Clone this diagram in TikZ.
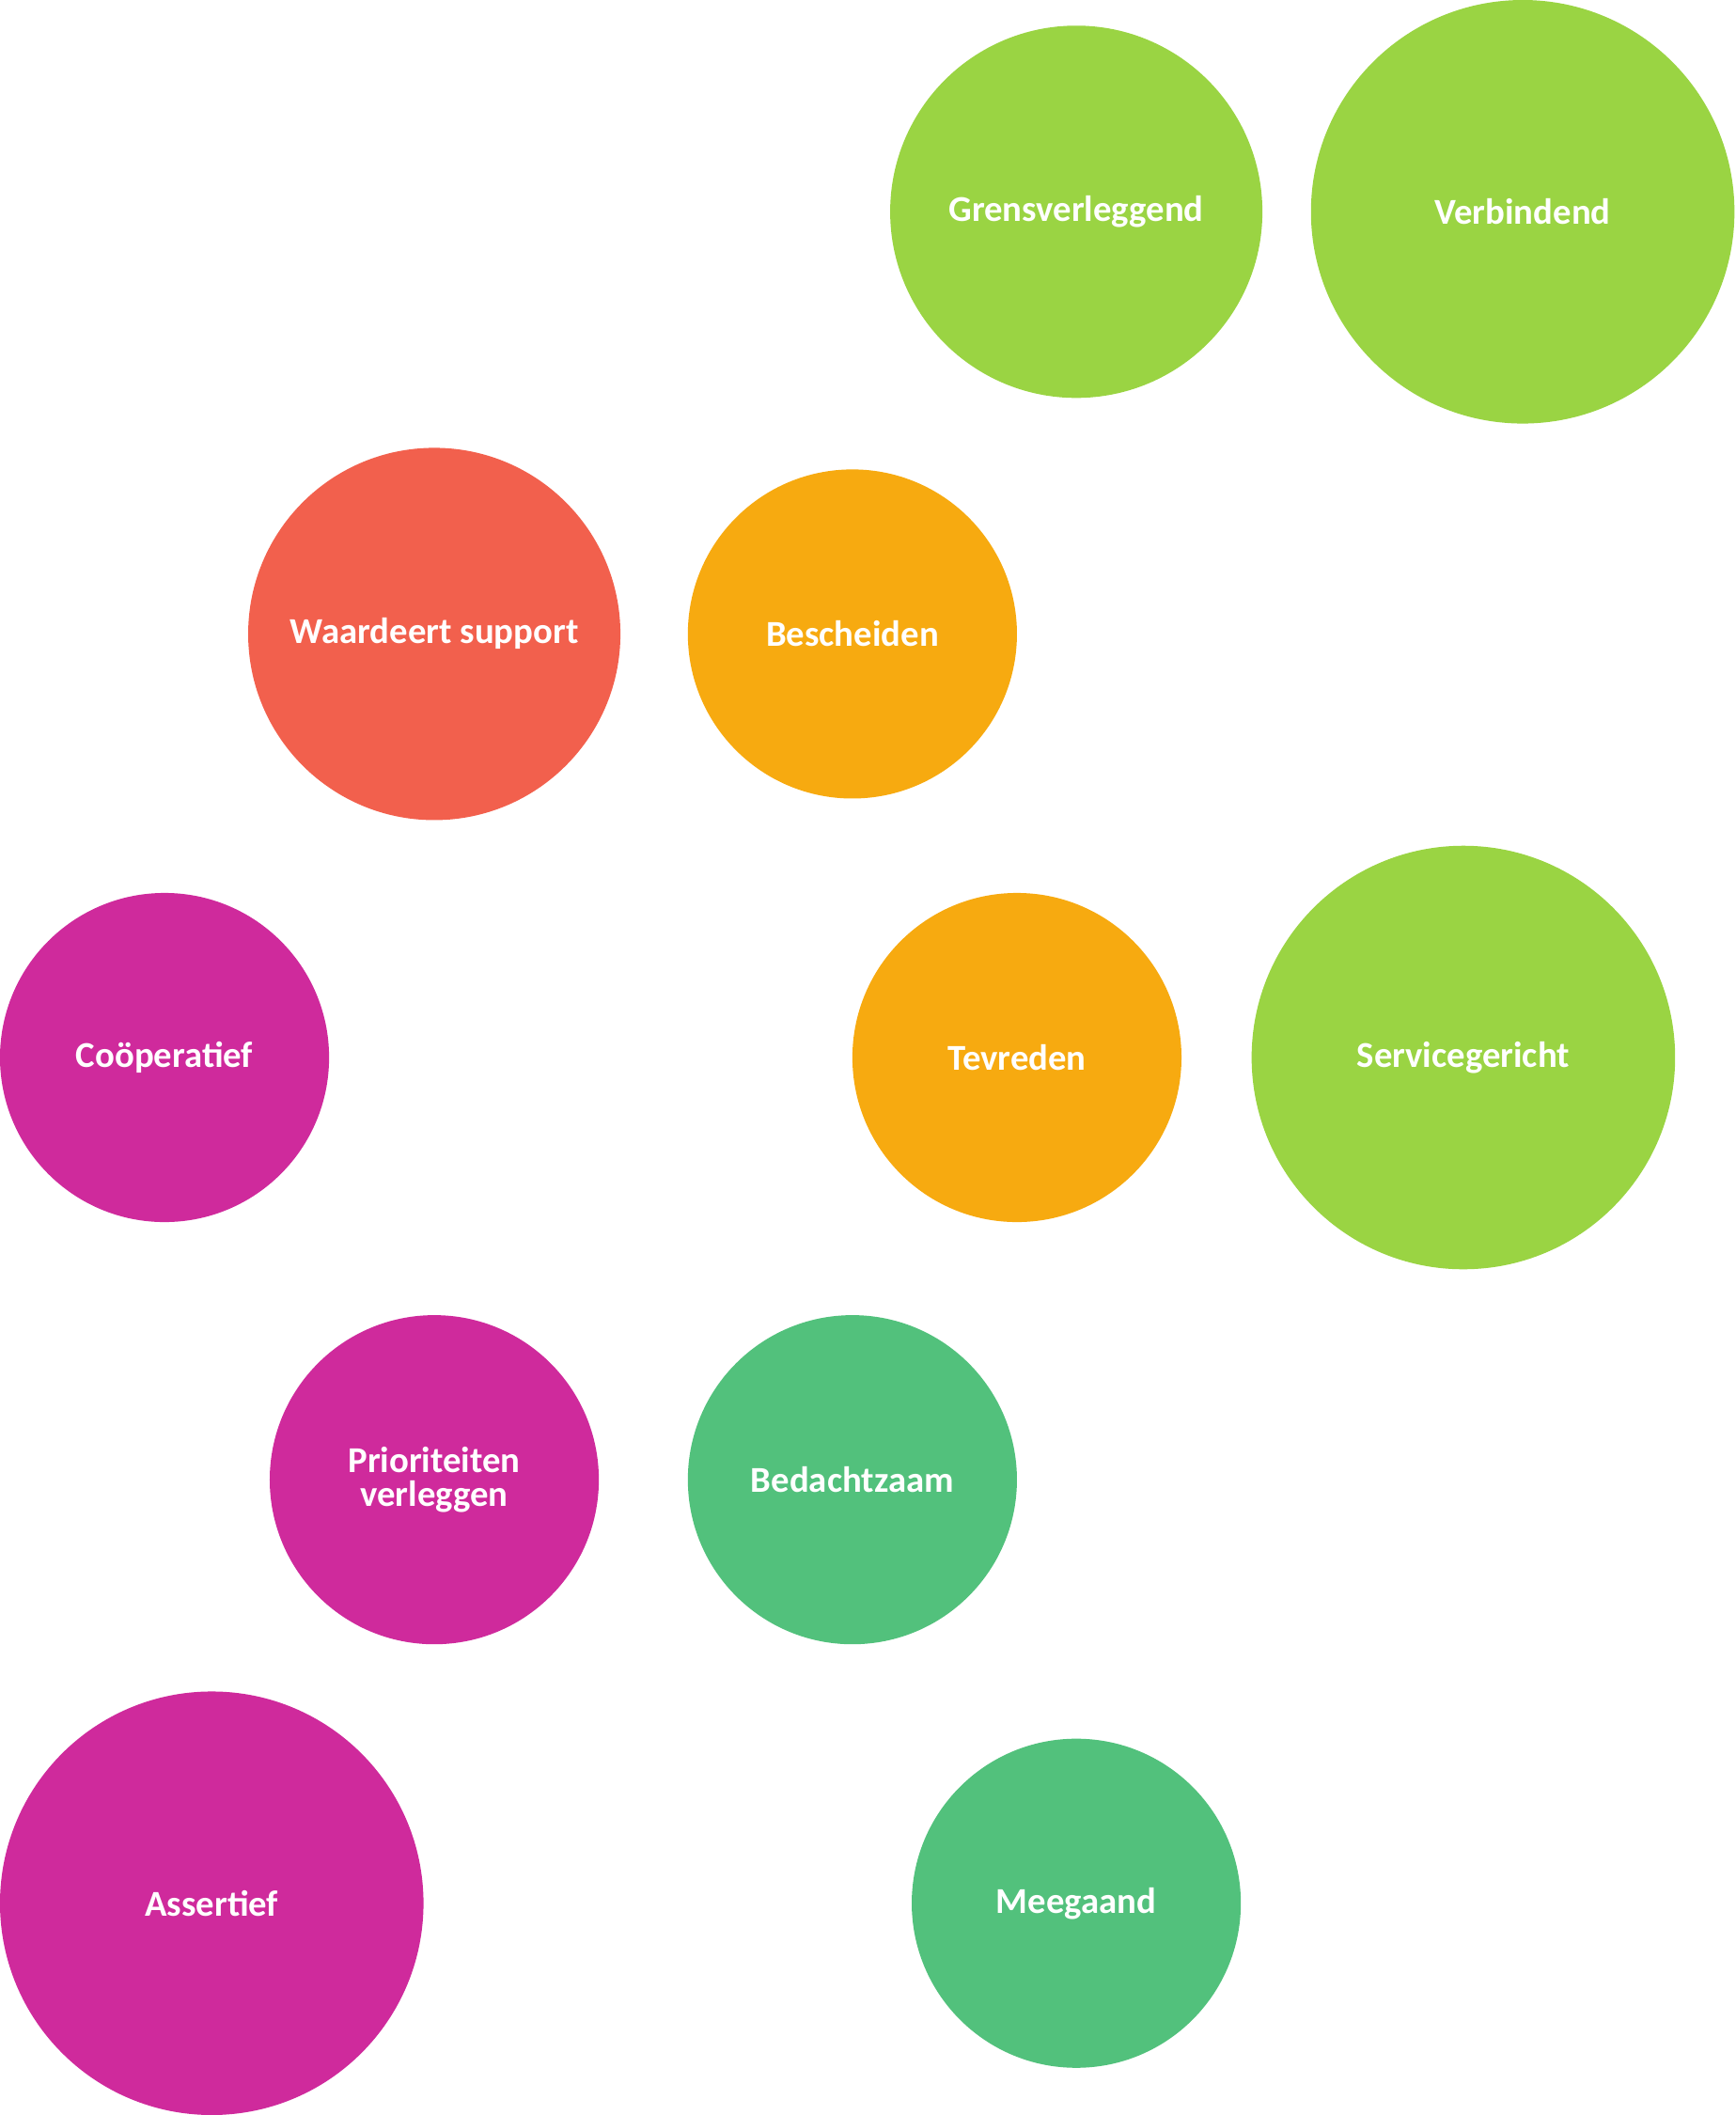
\documentclass[tikz,border=0pt]{standalone}
\usepackage{fontspec}
\setmainfont{Carlito}
\definecolor{cgreen}{HTML}{9AD443}
\definecolor{cred}{HTML}{F2604D}
\definecolor{corange}{HTML}{F7AA10}
\definecolor{cmag}{HTML}{CF2A9C}
\definecolor{cteal}{HTML}{52C17C}
\begin{document}
\begin{tikzpicture}[x=1pt,y=-1pt,
  bub/.style={circle,inner sep=0pt,text=white,align=center,font=\fontsize{27}{25}\selectfont\bfseries}]
\useasboundingbox (0,0) rectangle (1287,1568);
\node[bub,fill=cgreen,minimum size=276] (g) at (798,157) {Grensverleggend};
\node[bub,fill=cgreen,minimum size=314] (v) at (1129,157) {Verbindend};
\node[bub,fill=cred,minimum size=276] (w) at (322,470) {Waardeert support};
\node[bub,fill=corange,minimum size=244] (b) at (632,470) {Bescheiden};
\node[bub,fill=cmag,minimum size=244] (c) at (122,784) {Coöperatief};
\node[bub,fill=corange,minimum size=244] (t) at (754,784) {Tevreden};
\node[bub,fill=cgreen,minimum size=314] (s) at (1085,784) {Servicegericht};
\node[bub,fill=cmag,minimum size=244] (p) at (322,1097) {Prioriteiten\\verleggen};
\node[bub,fill=cteal,minimum size=244] (bd) at (632,1097) {Bedachtzaam};
\node[bub,fill=cmag,minimum size=314] (a) at (157,1411) {Assertief};
\node[bub,fill=cteal,minimum size=244] (m) at (798,1411) {Meegaand};
\end{tikzpicture}
\end{document}
